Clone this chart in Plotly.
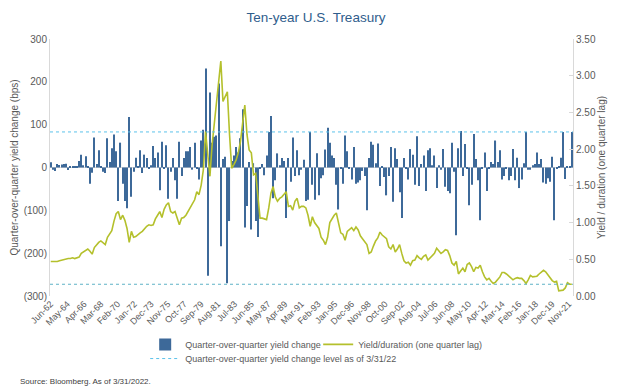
import pandas as pd
import plotly.graph_objects as go

# Quarterly observations, Jun-62 .. Mar-22 (240 quarters)
qoq_change_bps = [
    12, -5, -8, 8, 6, 7, 8, 9, -6, 3,
    3, 2, 2, 15, 30, 5, 26, 3, -38, -12,
    70, 8, 40, 3, -10, -13, 68, 13, 45, 77,
    38, -78, 58, -38, -78, -95, 118, -68, -10, 23,
    3, 40, -13, 30, 22, -3, 5, 50, 22, 35,
    -53, 60, -3, 52, -73, -10, 22, -30, -73, 60,
    -20, 22, 38, 38, 48, -5, 58, -3, -28, 63,
    88, 231, -253, 175, 58, 72, 75, 196, -184, 20,
    25, -270, -125, 15, 28, 48, 35, 68, 136, -140,
    -90, 13, -145, 10, -125, -162, -3, 8, -18, 28,
    83, 120, -72, -30, 33, 5, 22, 15, -118, 22,
    -33, 70, -20, 40, -18, -5, 18, -78, -75, 83,
    -40, -75, 33, -65, -25, -18, 42, 93, 58, 28,
    22, -40, -98, -3, -38, 75, 38, -3, -28, 48,
    -38, -35, -30, -8, -20, -100, 22, 60, 53, 10,
    56, -43, 3, -22, -65, -20, 48, -80, 45, 20,
    -58, -118, 22, -3, -28, 43, 30, -40, 73, -43,
    8, 28, -55, 40, 45, 5, 28, -48, 5, -5,
    43, -45, -55, -60, 58, -10, -158, 45, 85, -20,
    55, -3, -88, -40, 78, 20, -30, -123, -3, 35,
    -55, -3, 13, 8, 63, 13, 40, -28, -20, -3,
    -30, -20, 43, -30, 23, -48, -28, 10, 83, -5,
    -5, 5, 8, 35, 8, 20, -35, -38, -25, -33,
    25, -123, -3, 3, 23, 83, -27, 2, 2, 83,
]

yield_duration = [
    0.47, 0.47, 0.46, 0.47, 0.48, 0.49, 0.50, 0.50, 0.51, 0.51,
    0.52, 0.51, 0.52, 0.53, 0.58, 0.60, 0.62, 0.64, 0.61, 0.57,
    0.66, 0.70, 0.73, 0.75, 0.73, 0.70, 0.80, 0.85, 0.89, 1.02,
    1.12, 1.15, 1.04, 1.10, 1.03, 0.92, 0.73, 0.88, 0.80, 0.81,
    0.84, 0.86, 0.88, 0.92, 0.95, 0.97, 0.96, 0.97, 1.05, 1.10,
    1.15, 1.07, 1.18, 1.24, 1.27, 1.15, 1.13, 1.15, 1.05, 0.97,
    1.06, 1.07, 1.10, 1.15, 1.22, 1.26, 1.31, 1.42, 1.38, 1.51,
    1.72, 2.24, 1.90, 1.63, 2.06, 2.35, 2.60, 2.85, 3.20, 2.65,
    2.72, 2.78, 2.20, 1.74, 1.79, 1.85, 1.95, 2.10, 2.35, 2.60,
    2.20, 1.99, 1.95, 1.65, 1.67, 1.38, 1.06, 1.06, 1.05, 1.04,
    1.20, 1.40, 1.49, 1.35, 1.29, 1.33, 1.35, 1.38, 1.42, 1.22,
    1.23, 1.17, 1.29, 1.33, 1.20, 1.22, 1.22, 1.20, 1.10, 0.95,
    1.08, 1.00, 0.95, 0.92, 0.80, 0.76, 0.70, 0.80, 1.00, 1.06,
    1.10, 1.13, 0.98, 0.86, 0.84, 0.76, 0.88, 0.91, 0.93, 0.89,
    0.94, 0.90, 0.82, 0.78, 0.73, 0.70, 0.58, 0.60, 0.68, 0.75,
    0.79, 0.87, 0.83, 0.81, 0.78, 0.67, 0.64, 0.70, 0.60, 0.64,
    0.70, 0.58, 0.48, 0.45, 0.46, 0.42, 0.48, 0.49, 0.55, 0.52,
    0.50, 0.54, 0.56, 0.49, 0.52, 0.55, 0.58, 0.65, 0.62, 0.58,
    0.60, 0.63, 0.62, 0.55, 0.45, 0.42, 0.47, 0.30, 0.34, 0.38,
    0.33, 0.43, 0.45, 0.40, 0.33, 0.39, 0.38, 0.42, 0.33, 0.26,
    0.22, 0.24, 0.20, 0.17, 0.19, 0.22, 0.26, 0.32, 0.32, 0.30,
    0.27, 0.24, 0.22, 0.24, 0.25, 0.24, 0.24, 0.21, 0.17, 0.22,
    0.28, 0.26, 0.26, 0.27, 0.30, 0.32, 0.35, 0.33, 0.29, 0.25,
    0.21, 0.19, 0.20, 0.07, 0.07, 0.08, 0.11, 0.18, 0.16, 0.16,
]

tick_labels = [
    "Jun-62", "May-64", "Apr-66", "Mar-68", "Feb-70", "Jan-72", "Dec-73", "Nov-75",
    "Oct-77", "Sep-79", "Aug-81", "Jul-83", "Jun-85", "May-87", "Apr-89", "Mar-91",
    "Feb-93", "Jan-95", "Dec-96", "Nov-98", "Oct-00", "Sep-02", "Aug-04", "Jul-06",
    "Jun-08", "May-10", "Apr-12", "Mar-14", "Feb-16", "Jan-18", "Dec-19", "Nov-21",
]

left_tick_vals = [-300, -200, -100, 0, 100, 200, 300]
left_tick_text = ["(300)", "(200)", "(100)", "0", "100", "200", "300"]

latest_qoq_change = 83      # bps, as of 3/31/22
latest_yield_duration = 0.16

dates = pd.date_range("1962-06-01", periods=len(qoq_change_bps), freq="3MS")
tick_dates = pd.date_range("1962-06-01", periods=len(tick_labels), freq="23MS")

GRAY = "#595959"
FONT = "Arial, Liberation Sans, sans-serif"

fig = go.Figure()
fig.add_trace(go.Bar(
    x=dates, y=qoq_change_bps, name="Quarter-over-quarter yield change",
    marker=dict(color="#3D6999", line=dict(width=0)),
    yaxis="y", legend="legend",
))
fig.add_trace(go.Scatter(
    x=dates, y=yield_duration, name="Yield/duration (one quarter lag)",
    mode="lines", line=dict(color="#B4C02C", width=1.6),
    yaxis="y2", legend="legend",
))

fig.add_shape(type="line", xref="paper", x0=0, x1=1, yref="y",
              y0=latest_qoq_change, y1=latest_qoq_change,
              line=dict(color="#5BC2EA", width=1, dash="dot"),
              showlegend=True, legend="legend2",
              name="Quarter-over-quarter yield change level as of 3/31/22")
fig.add_shape(type="line", xref="paper", x0=0, x1=1, yref="y2",
              y0=latest_yield_duration, y1=latest_yield_duration,
              line=dict(color="#5FB3C6", width=1, dash="dot"))

legend_common = dict(orientation="h", xanchor="left", yanchor="top",
                     font=dict(size=9, color=GRAY), itemwidth=30,
                     bgcolor="rgba(0,0,0,0)")

# page has an 8px body margin, so the figure is sized to fit inside it
fig.update_layout(
    width=616, height=382,
    margin=dict(l=42, r=51, t=31, b=94, autoexpand=False),
    paper_bgcolor="white", plot_bgcolor="white",
    font=dict(family=FONT, color=GRAY, size=10),
    title=dict(text="Ten-year U.S. Treasury", x=0.5, xanchor="center",
               y=0.976, yanchor="middle",
               font=dict(family=FONT, size=13.5, color="#2F5D8C")),
    bargap=0.5,
    showlegend=True,
    legend=dict(x=0.182, y=-0.132, entrywidthmode="pixels", entrywidth=128,
                **legend_common),
    legend2=dict(x=0.182, y=-0.187, **legend_common),
    xaxis=dict(
        type="date", range=["1962-05-01", "2022-04-20"], automargin=False,
        tickmode="array", tickvals=tick_dates, ticktext=tick_labels,
        tickangle=-45, tickfont=dict(size=9, color=GRAY),
        showgrid=False, showline=False, ticks="", zeroline=False,
    ),
    yaxis=dict(
        range=[-300, 300], tickmode="array", tickvals=left_tick_vals,
        ticktext=left_tick_text, showgrid=False, zeroline=True, automargin=False,
        zerolinecolor="#D9D9D9", zerolinewidth=1,
        showline=True, linecolor="#D9D9D9", linewidth=1, ticks="",
        title=dict(text="Quarter-over-quarter yield change (bps)",
                   font=dict(size=10, color=GRAY), standoff=3),
        tickfont=dict(size=10, color=GRAY),
    ),
    yaxis2=dict(
        range=[0, 3.5], dtick=0.5, tickformat=".2f", overlaying="y", side="right",
        showgrid=False, zeroline=False, showline=True, linecolor="#D9D9D9",
        automargin=False,
        linewidth=1, ticks="inside", ticklen=4, tickcolor="#D9D9D9",
        title=dict(text="Yield / duration (one quarter lag)",
                   font=dict(size=10, color=GRAY), standoff=2),
        tickfont=dict(size=10, color=GRAY),
    ),
)

fig.add_annotation(text="Source: Bloomberg. As of 3/31/2022.", xref="paper", yref="paper",
                   x=-0.061, y=-0.331, xanchor="left", yanchor="middle", showarrow=False,
                   font=dict(size=8, color="#404040"))

fig.write_html("out.html")
